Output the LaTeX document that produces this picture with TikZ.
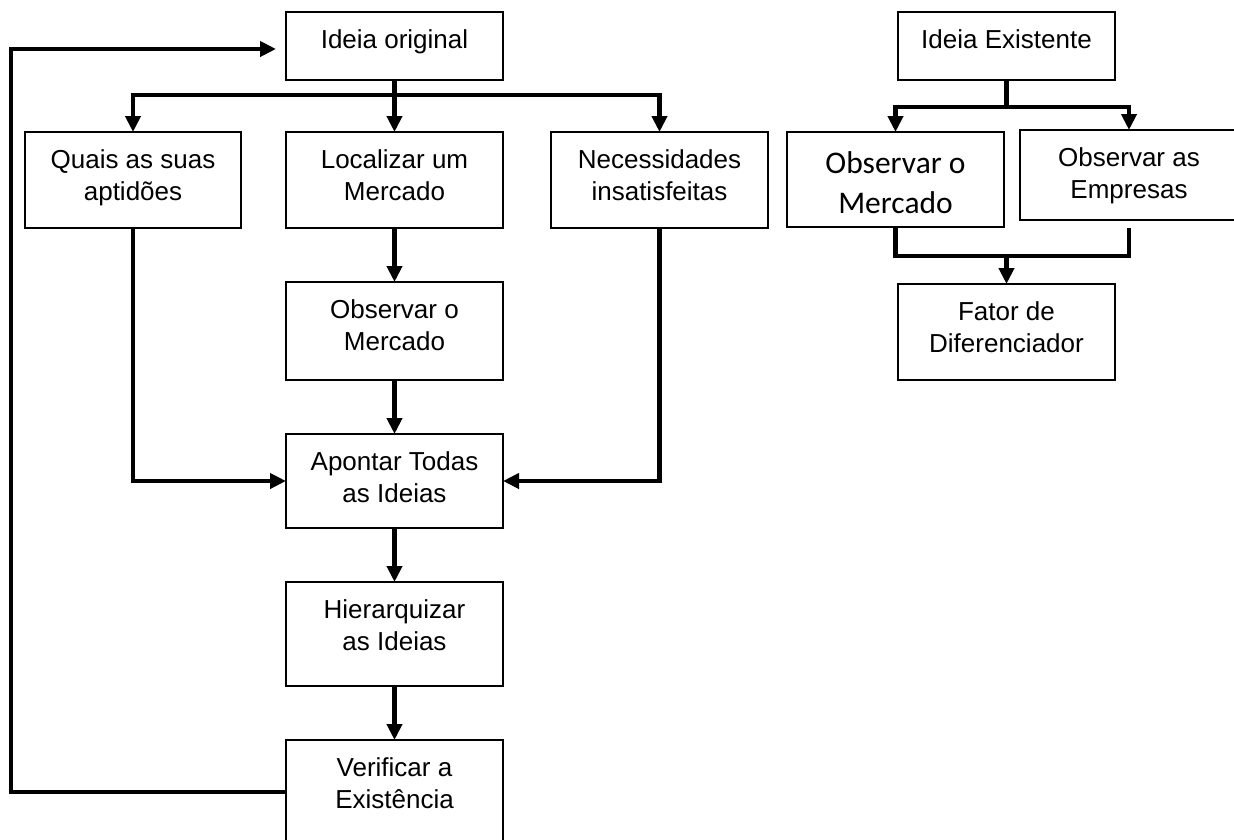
\documentclass[tikz,border=0pt]{standalone}
\usepackage{fontspec}
\setmainfont{Liberation Sans}
\newfontfamily\calibfont{Carlito}
\usetikzlibrary{arrows.meta}

% fixed-size box text: first baseline at #3 below the top edge
\newcommand\boxtxt[4]{\parbox[c][#2][t]{#1}{\centering\rule{0pt}{#3}#4}}

\tikzset{
  box/.style={draw, line width=1.8pt, inner sep=0pt, outer sep=0pt, anchor=north west},
  link/.style={line width=4.2pt, line join=miter},
  arr/.style={link, -{Triangle[length=16pt,width=15pt]}},
  every node/.style={font=\fontsize{26}{32.5}\selectfont},
}

\begin{document}
\begin{tikzpicture}[x=1pt, y=-1pt]
\useasboundingbox (0,0) rectangle (1234,839);
\clip (0,0) rectangle (1234,839);

% ---- main flow ----
\node[box] (orig)   at (286,12)  {\boxtxt{217pt}{68pt}{36pt}{Ideia original}};
\node[box] (quais)  at (25,132)  {\boxtxt{216pt}{96pt}{36pt}{Quais as suas\\aptidões}};
\node[box] (local)  at (286,132) {\boxtxt{217pt}{96pt}{36pt}{Localizar um\\Mercado}};
\node[box] (necess) at (551,132) {\boxtxt{217pt}{96pt}{36pt}{Necessidades\\insatisfeitas}};
\node[box] (obsm)   at (286,282) {\boxtxt{217pt}{98pt}{36pt}{Observar o\\Mercado}};
\node[box] (apont)  at (286,434) {\boxtxt{217pt}{94pt}{36pt}{Apontar Todas\\as Ideias}};
\node[box] (hier)   at (286,582) {\boxtxt{217pt}{104pt}{36pt}{Hierarquizar\\as Ideias}};
\node[box] (verif)  at (286,740) {\boxtxt{217pt}{120pt}{36pt}{Verificar a\\Existência}};

\coordinate (bus)   at (0,95);
\coordinate (back1) at (11,792);
\coordinate (back2) at (11,49);

\draw[link] (orig.south) -- (orig.south |- bus);
\draw[arr] (orig.south |- bus) -| (quais.north);
\draw[arr] (orig.south |- bus) -| (necess.north);
\draw[arr] (orig.south |- bus) -- (local.north);
\draw[arr] (local.south) -- (obsm.north);
\draw[arr] (obsm.south) -- (apont.north);
\draw[arr] (quais.south) |- (apont.west);
\draw[arr] (necess.south) |- (apont.east);
\draw[arr] (apont.south) -- (hier.north);
\draw[arr] (hier.south) -- (verif.north);
\draw[arr] (verif.west |- back1) -- (back1) -- (back2) -- ([xshift=-10pt]orig.west |- back2);

% ---- existing idea ----
\node[box] (exist) at (898,12)   {\boxtxt{217pt}{68pt}{36pt}{Ideia Existente}};
\node[box] (obsm2) at (787,132)  {\parbox[c][95pt][t]{217pt}{\centering\calibfont\fontsize{31.5}{40}\selectfont\rule{0pt}{41pt}Observar o\\Mercado}};
\node[box] (empr)  at (1020,130) {\boxtxt{218pt}{90pt}{36pt}{Observar as\\Empresas}};
\node[box] (fator) at (898,284)  {\boxtxt{217pt}{96pt}{36pt}{Fator de\\Diferenciador}};

\coordinate (rbus)  at (0,107);
\coordinate (rjoin) at (0,256);

\draw[link] (exist.south) -- (exist.south |- rbus);
\draw[arr] (exist.south |- rbus) -| (obsm2.north);
\draw[arr] (exist.south |- rbus) -| (empr.north);
\draw[link] (obsm2.south) -- (obsm2.south |- rjoin) -- (empr.south |- rjoin) -- ([yshift=-8pt]empr.south);
\draw[arr] (fator.north |- rjoin) -- (fator.north);
\end{tikzpicture}
\end{document}
